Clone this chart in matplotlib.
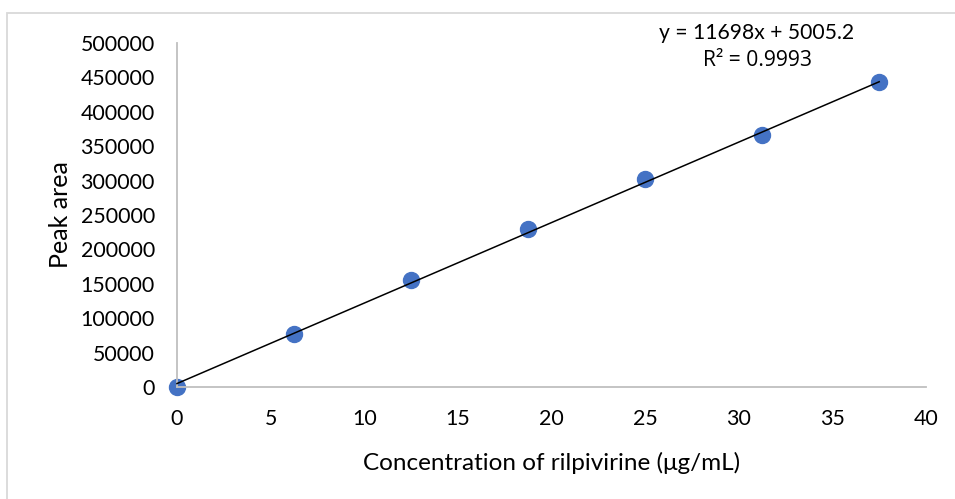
import matplotlib.pyplot as plt
from matplotlib.patches import Rectangle

# calibration data
conc = [0, 6.25, 12.5, 18.75, 25, 31.25, 37.5]
area = [0, 77000, 155500, 229700, 302300, 366300, 443300]

# trendline as reported on the chart
slope = 11698
intercept = 5005.2
r2 = 0.9993

plt.rcParams['font.family'] = ['Lato', 'DejaVu Sans']

fig = plt.figure(figsize=(9.55, 4.99), dpi=100)
ax = fig.add_axes([177/955, 1-387/499, (926-177)/955, (387-43)/499])

fit_x = [0, conc[-1]]
fit_y = [slope*v + intercept for v in fit_x]
ax.plot(fit_x, fit_y, color='black', lw=1.1, zorder=3, clip_on=False)
ax.plot(conc, area, 'o', color='#4472C4', ms=11.5, zorder=2, clip_on=False)

ax.set_xlim(0, 40)
ax.set_ylim(0, 500000)
ax.set_xticks(range(0, 41, 5))
ax.set_yticks(range(0, 500001, 50000))
ax.tick_params(length=0, labelsize=15.4, colors='black')
ax.tick_params(axis='y', pad=16)
ax.tick_params(axis='x', pad=16)

for s in ['top', 'right']:
    ax.spines[s].set_visible(False)
for s in ['left', 'bottom']:
    ax.spines[s].set_color('#BFBFBF')
    ax.spines[s].set_linewidth(1.3)

ax.set_xlabel('Concentration of rilpivirine (μg/mL)', fontsize=17.5)
ax.set_ylabel('Peak area', fontsize=18)
ax.xaxis.set_label_coords(0.5, -0.19)
ax.yaxis.set_label_coords(-0.14, 0.5)

fig.text(757/955, 1-33/499, 'y = {}x + {}'.format(slope, intercept),
         ha='center', va='center', fontsize=15.2)
fig.text(757/955, 1-60/499, 'R² = {}'.format(r2),
         ha='center', va='center', fontsize=15.2, family=['Open Sans', 'DejaVu Sans'])

fig.add_artist(Rectangle((7/955, -0.1), 2, 1-13/499+0.1, transform=fig.transFigure,
                         fill=False, ec='#D9D9D9', lw=1.3))

plt.savefig('out.png', dpi=100)
